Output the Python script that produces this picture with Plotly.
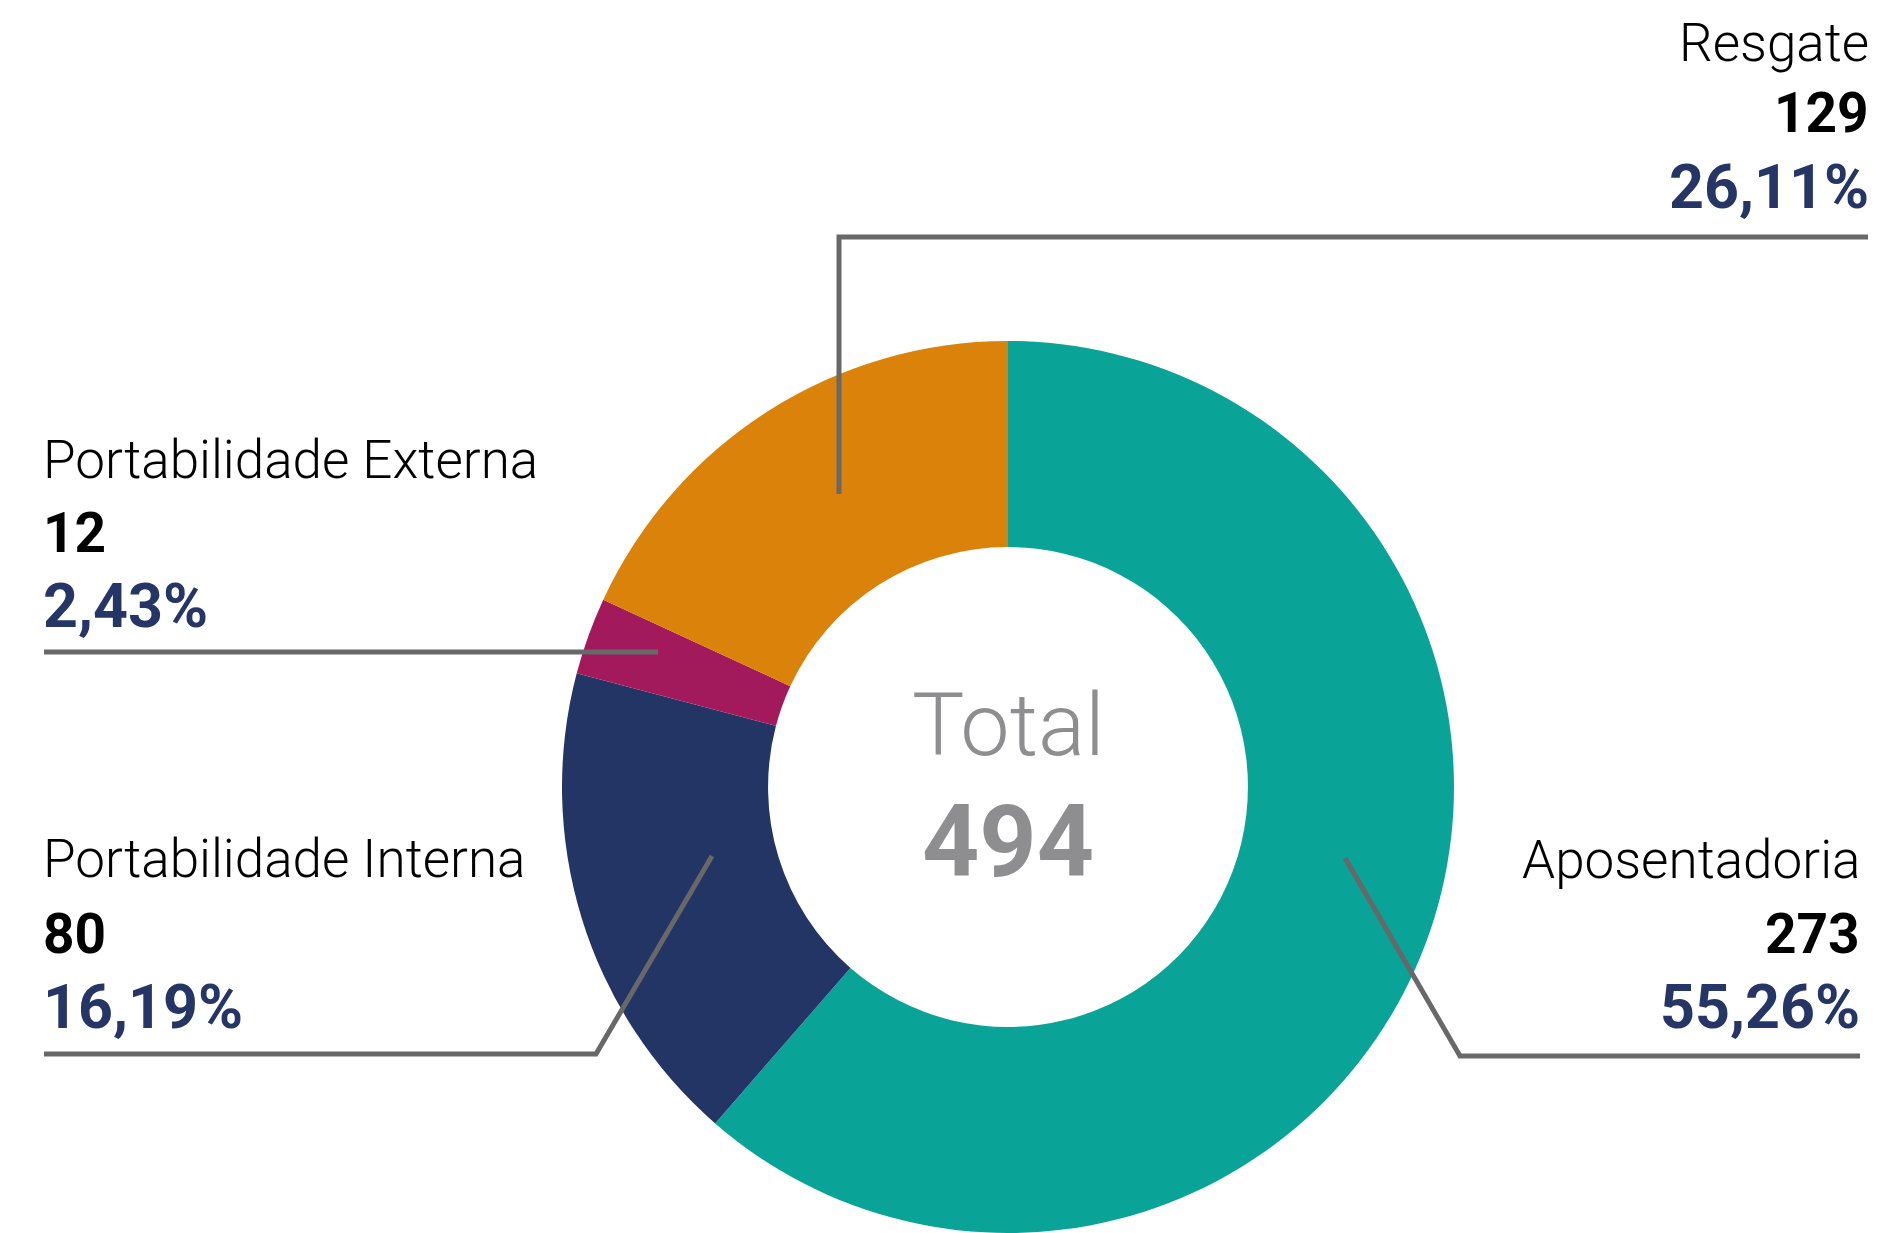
import plotly.graph_objects as go

# ---- data ----
categories = ["Aposentadoria", "Portabilidade Interna", "Portabilidade Externa", "Resgate"]
counts = [273, 80, 12, 129]
percent_labels = ["55,26%", "16,19%", "2,43%", "26,11%"]
# share of the ring each slice occupies as drawn in the picture (%)
slice_share_drawn = [61.4, 17.7, 2.8, 18.1]
total_label = "Total"
total_value = 494

# ---- styles ----
PAGE_OFF = 8           # default body margin of the html page
W, H = 1872, 1225      # figure size so the page fits the 1880x1233 window
colors = ["#0AA398", "#233565", "#A31A5C", "#DB820A"]
NAVY = "#243566"
GRAY_LINE = "#686868"
FONT = "Roboto"

cx, cy, R = 1008, 788, 446  # ring centre / outer radius in screen pixels


def px(x):
    return (x - PAGE_OFF) / W


def py(y):
    return 1 - (y - PAGE_OFF) / H


fig = go.Figure(
    go.Pie(
        labels=categories,
        values=slice_share_drawn,
        hole=0.538,
        sort=False,
        direction="clockwise",
        rotation=0,
        marker=dict(colors=colors, line=dict(width=0)),
        textinfo="none",
        hoverinfo="label",
        showlegend=False,
        domain=dict(x=[px(cx - R), px(cx + R)], y=[0, (2 * R) / H]),
    )
)

# label blocks: (x, anchor, y_label, y_count, y_pct) in screen pixels
blocks = {
    "Resgate": (1871, "right", 43, 113, 187),
    "Portabilidade Externa": (41, "left", 460, 533, 606),
    "Portabilidade Interna": (41, "left", 859, 934, 1007),
    "Aposentadoria": (1862, "right", 860, 934, 1007),
}

annotations = []
for cat, cnt, pct in zip(categories, counts, percent_labels):
    x, anchor, yl, yc, yp = blocks[cat]
    annotations.append(dict(x=px(x), y=py(yl), text=cat, xanchor=anchor, yanchor="middle",
                            font=dict(family=FONT, size=53, weight=300, color="#000000")))
    annotations.append(dict(x=px(x), y=py(yc), text=str(cnt), xanchor=anchor, yanchor="middle",
                            font=dict(family=FONT, size=55, weight=700, color="#000000")))
    annotations.append(dict(x=px(x), y=py(yp), text=pct, xanchor=anchor, yanchor="middle",
                            font=dict(family=FONT, size=61, weight=700, color=NAVY)))

annotations.append(dict(x=px(cx), y=py(724), text=total_label, xanchor="center", yanchor="middle",
                        font=dict(family=FONT, size=88, weight=300, color="#8E8E90")))
annotations.append(dict(x=px(cx), y=py(841), text=str(total_value), xanchor="center", yanchor="middle",
                        font=dict(family=FONT, size=100, weight=700, color="#8E8E90")))
for a in annotations:
    a.update(xref="paper", yref="paper", showarrow=False)

# leader lines (screen pixels)
leaders = [
    [(839, 494), (839, 237), (1868, 237)],
    [(658, 652), (44, 652)],
    [(712, 856), (596, 1054), (44, 1054)],
    [(1345, 858), (1460, 1056), (1860, 1056)],
]
shapes = []
for pts in leaders:
    path = "M " + " L ".join(f"{px(x)},{py(y)}" for x, y in pts)
    shapes.append(dict(type="path", path=path, xref="paper", yref="paper",
                       line=dict(color=GRAY_LINE, width=5)))

fig.update_layout(
    width=W, height=H, autosize=False,
    margin=dict(l=0, r=0, t=0, b=0),
    paper_bgcolor="white", plot_bgcolor="white",
    annotations=annotations, shapes=shapes,
)

fig.write_html("out.html")
